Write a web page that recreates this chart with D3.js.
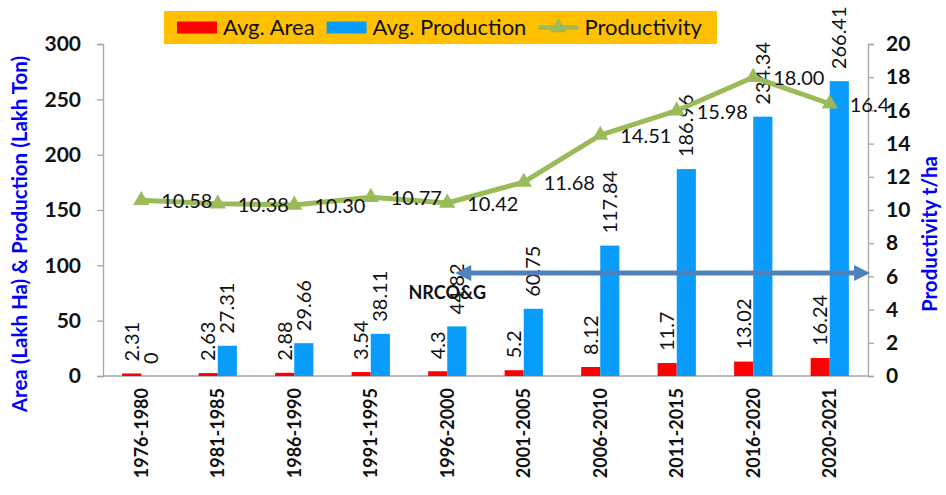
<!DOCTYPE html>
<html>
<head>
<meta charset="utf-8">
<script src="https://cdn.jsdelivr.net/npm/d3@7"></script>
<style>
  html, body { margin: 0; padding: 0; background: #fff; }
  svg { display: block; font-family: Lato, "Open Sans", sans-serif; }
</style>
</head>
<body>
<svg id="chart" width="946" height="495"></svg>
<script>
// Periods and averages
const periods = ["1976-1980", "1981-1985", "1986-1990", "1991-1995", "1996-2000",
                 "2001-2005", "2006-2010", "2011-2015", "2016-2020", "2020-2021"];
const avgArea = [2.31, 2.63, 2.88, 3.54, 4.3, 5.2, 8.12, 11.7, 13.02, 16.24];
const avgProduction = [0, 27.31, 29.66, 38.11, 44.82, 60.75, 117.84, 186.96, 234.34, 266.41];
const productivity = [10.58, 10.38, 10.30, 10.77, 10.42, 11.68, 14.51, 15.98, 18.00, 16.4];
const productivityLabels = ["10.58", "10.38", "10.30", "10.77", "10.42", "11.68", "14.51", "15.98", "18.00", "16.4"];
const leftTicks = [0, 50, 100, 150, 200, 250, 300];
const rightTicks = [0, 2, 4, 6, 8, 10, 12, 14, 16, 18, 20];

// NRCO&G period marker: spans from 1996-2000 onward, drawn at productivity level 6.2
const markerStart = "1996-2000";
const markerLevel = 6.2;
const markerLabel = "NRCO&G";

const colors = { area: "#FF0000", prod: "#0A9CFA", line: "#9BBB59", arrow: "#4F81BD", title: "#0000FF", axis: "#A6A6A6" };

const svg = d3.select("#chart");
const plot = { left: 103, right: 868, top: 44, bottom: 376 };

const x = d3.scaleBand().domain(periods).range([plot.left, plot.right]).paddingInner(0.5).paddingOuter(0.25);
const xSeries = d3.scaleBand().domain(["area", "prod"]).range([0, x.bandwidth()]);
const center = p => x(p) + x.bandwidth() / 2;
const yL = d3.scaleLinear().domain([0, 300]).range([plot.bottom, plot.top]);
const yR = d3.scaleLinear().domain([0, 20]).range([plot.bottom, plot.top]);

// Axes
const axisL = svg.append("g").attr("transform", `translate(${plot.left},0)`)
  .call(d3.axisLeft(yL).tickValues(leftTicks).tickSize(6).tickPadding(16));
const axisR = svg.append("g").attr("transform", `translate(${plot.right},0)`)
  .call(d3.axisRight(yR).tickValues(rightTicks).tickSize(6).tickPadding(12));
const axisB = svg.append("g").attr("transform", `translate(0,${plot.bottom})`)
  .call(d3.axisBottom(x).tickSize(0).tickPadding(12));

[axisL, axisR, axisB].forEach(g => {
  g.select(".domain").attr("stroke", colors.axis).attr("stroke-width", 1.3);
  g.selectAll(".tick line").attr("stroke", colors.axis).attr("stroke-width", 1.3);
  g.selectAll(".tick text").attr("fill", "#111").attr("font-weight", "bold")
    .attr("font-family", "Lato, sans-serif");
});
axisL.selectAll(".tick text").attr("font-size", 21);
axisR.selectAll(".tick text").attr("font-size", 21);
axisB.select(".domain").attr("d", `M${plot.left},0H${plot.right}`);
axisB.selectAll(".tick text")
  .attr("font-size", 18)
  .attr("transform", "rotate(-90)")
  .attr("text-anchor", "end")
  .attr("x", -12).attr("y", 0).attr("dy", "0.35em");

// Bars
const barGroup = svg.append("g");
barGroup.selectAll("rect.area").data(periods).join("rect").attr("class", "area")
  .attr("x", (p) => x(p) + xSeries("area"))
  .attr("width", xSeries.bandwidth())
  .attr("y", (p, i) => yL(avgArea[i]))
  .attr("height", (p, i) => plot.bottom - yL(avgArea[i]))
  .attr("fill", colors.area);
barGroup.selectAll("rect.prod").data(periods).join("rect").attr("class", "prod")
  .attr("x", (p) => x(p) + xSeries("prod"))
  .attr("width", xSeries.bandwidth())
  .attr("y", (p, i) => yL(avgProduction[i]))
  .attr("height", (p, i) => plot.bottom - yL(avgProduction[i]))
  .attr("fill", colors.prod);

// Bar value labels, rotated
function barLabels(values, key) {
  svg.append("g").selectAll("text").data(periods).join("text")
    .attr("transform", (p, i) => {
      const cx = x(p) + xSeries(key) + xSeries.bandwidth() / 2;
      return `translate(${cx},${yL(values[i]) - 12}) rotate(-90)`;
    })
    .attr("dy", "0.35em")
    .attr("font-size", 20)
    .attr("fill", "#111")
    .text((p, i) => values[i]);
}
barLabels(avgArea, "area");
barLabels(avgProduction, "prod");

// Productivity line
const line = d3.line().x((d, i) => center(periods[i])).y(d => yR(d));
svg.append("path").datum(productivity)
  .attr("d", line).attr("fill", "none")
  .attr("stroke", colors.line).attr("stroke-width", 5).attr("stroke-linejoin", "round");
const tri = d3.symbol().type(d3.symbolTriangle).size(115);
svg.append("g").selectAll("path").data(productivity).join("path")
  .attr("d", tri)
  .attr("transform", (d, i) => `translate(${center(periods[i])},${yR(d)})`)
  .attr("fill", colors.line);
svg.append("g").selectAll("text").data(productivity).join("text")
  .attr("x", (d, i) => center(periods[i]) + 20)
  .attr("y", d => yR(d) + 1)
  .attr("dy", "0.35em")
  .attr("font-size", 20)
  .attr("fill", "#111")
  .text((d, i) => productivityLabels[i]);

// NRCO&G double arrow
const ax1 = center(markerStart) + 8, ax2 = plot.right + 2, ay = yR(markerLevel);
const head = 16, half = 8;
const arrow = svg.append("g");
arrow.append("line").attr("x1", ax1 + head - 2).attr("x2", ax2 - head + 2)
  .attr("y1", ay).attr("y2", ay).attr("stroke", colors.arrow).attr("stroke-width", 5);
arrow.append("path").attr("fill", colors.arrow)
  .attr("d", `M${ax1},${ay}L${ax1 + head},${ay - half}L${ax1 + head},${ay + half}Z`);
arrow.append("path").attr("fill", colors.arrow)
  .attr("d", `M${ax2},${ay}L${ax2 - head},${ay - half}L${ax2 - head},${ay + half}Z`);
svg.append("text")
  .attr("x", center(markerStart)).attr("y", ay + 20)
  .attr("dy", "0.35em").attr("text-anchor", "middle")
  .attr("font-size", 18).attr("font-weight", "bold").attr("fill", "#111")
  .text(markerLabel);

// Axis titles
svg.append("text")
  .attr("transform", "translate(20,234) rotate(-90)")
  .attr("text-anchor", "middle").attr("dy", "0.35em")
  .attr("font-size", 20.5).attr("font-weight", "bold").attr("fill", colors.title)
  .text("Area (Lakh Ha) & Production (Lakh Ton)");
svg.append("text")
  .attr("transform", "translate(930,234) rotate(-90)")
  .attr("text-anchor", "middle").attr("dy", "0.35em")
  .attr("font-size", 20.5).attr("font-weight", "bold").attr("fill", colors.title)
  .text("Productivity t/ha");

// Legend
const legend = svg.append("g");
legend.append("rect").attr("x", 164).attr("y", 11).attr("width", 553).attr("height", 33).attr("fill", "#FFC000");
const items = [
  { label: "Avg. Area", type: "rect", color: colors.area },
  { label: "Avg. Production", type: "rect", color: colors.prod },
  { label: "Productivity", type: "line", color: colors.line }
];
let lx = 177;
items.forEach(it => {
  const g = legend.append("g").attr("transform", `translate(${lx},27.5)`);
  if (it.type === "rect") {
    g.append("rect").attr("x", 0).attr("y", -6).attr("width", 40).attr("height", 12).attr("fill", it.color);
  } else {
    g.append("line").attr("x1", 0).attr("x2", 40).attr("y1", 0).attr("y2", 0)
      .attr("stroke", it.color).attr("stroke-width", 4.5);
    g.append("path").attr("d", tri).attr("transform", "translate(20,0)").attr("fill", it.color);
  }
  const t = g.append("text").attr("x", 46).attr("dy", "0.35em")
    .attr("font-size", 22).attr("fill", "#111").text(it.label);
  lx += 46 + t.node().getComputedTextLength() + 12;
});
</script>
</body>
</html>
